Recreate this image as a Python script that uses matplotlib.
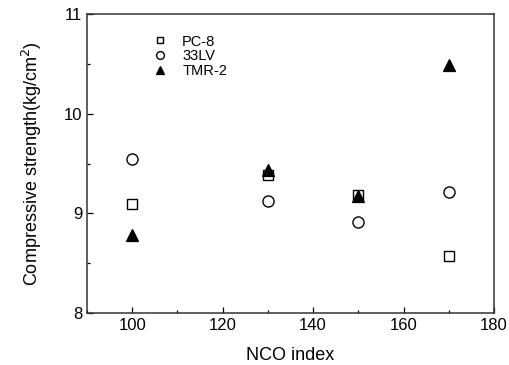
import numpy as np
import matplotlib.pyplot as plt
import matplotlib.ticker as ticker

plt.rcParams['font.family'] = ['Liberation Sans', 'DejaVu Sans']

# NCO index and compressive strength
nco = [100, 130, 150, 170]
pc8 = [9.09, 9.38, 9.18, 8.57]
lv33 = [9.55, 9.12, 8.91, 9.21]
tmr2 = [8.78, 9.43, 9.17, 10.49]

fig = plt.figure(figsize=(5.1, 3.65), dpi=100)
ax = fig.add_axes([87 / 510, 1 - 313 / 365, 407 / 510, 299 / 365])

ax.plot(nco, pc8, 's', ms=7, mfc='white', mec='k', mew=1.0, label='PC-8', zorder=2)
ax.plot(nco, lv33, 'o', ms=8, mfc='white', mec='k', mew=1.0, label='33LV', zorder=2)
ax.plot(nco, tmr2, '^', ms=9, mfc='k', mec='k', mew=0.9, label='TMR-2', zorder=3)

ax.set_xlim(90, 180)
ax.set_ylim(8, 11)
ax.xaxis.set_major_locator(ticker.MultipleLocator(20))
ax.xaxis.set_minor_locator(ticker.MultipleLocator(10))
ax.yaxis.set_major_locator(ticker.MultipleLocator(1))
ax.yaxis.set_minor_locator(ticker.MultipleLocator(0.5))
ax.tick_params(which='both', direction='in', labelsize=12, width=0.9)
ax.tick_params(which='major', length=4)
ax.tick_params(which='minor', length=2)
for s in ax.spines.values():
    s.set_linewidth(1.1)
    s.set_color('#333333')

ax.set_xlabel('NCO index', fontsize=13, labelpad=10)
ax.set_ylabel('Compressive strength(kg/cm$^2$)', fontsize=13, labelpad=14)

ax.legend(loc='upper left', bbox_to_anchor=(0.112, 0.975), frameon=False,
          fontsize=10.5, handletextpad=0.5, labelspacing=0.05, markerscale=0.7)

fig.savefig('out.png', dpi=100)
